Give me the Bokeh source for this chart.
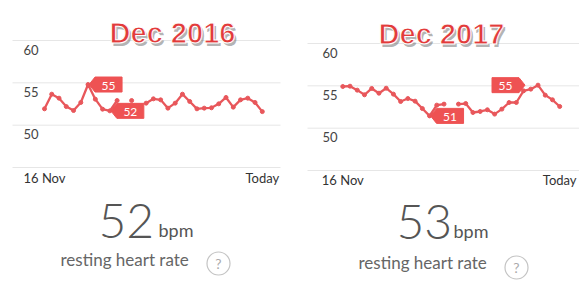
import math
from bokeh.plotting import figure
from bokeh.layouts import row
from bokeh.models import Range1d
from bokeh.core.properties import value
from bokeh.embed import file_html
from bokeh.resources import INLINE

nan = float("nan")

# ---------------- data ----------------
days = list(range(31))
x_label_days = [0, 30]
x_labels = ["16 Nov", "Today"]
y_ticks = [60, 55, 50]
y_grid = [60, 55, 50, 45]

hr_2016 = [51.93, 53.66, 53.19, 52.2, 51.73, 52.68, 54.8, 53.07, 51.89, 51.69,
           52.91, nan, 52.91, nan, 52.6, 53.11, 52.99, 52.01, 52.6, 53.66,
           52.8, 51.93, 52.01, 52.05, 52.52, 53.27, 52.13, 52.99, 53.19, 52.68,
           51.6]
hr_2017 = [54.92, 54.96, 54.49, 53.94, 54.69, 54.13, 54.72, 54.02, 53.15, 53.5,
           53.19, 52.32, 51.45, 52.72, 52.84, nan, 52.84, 52.91, 51.85, 51.97,
           52.17, 51.66, 52.25, 53.03, 53.03, 54.41, 54.61, 55.08, 53.9, 53.35,
           52.56]

callout_days_2016 = [6, 9]
callout_text_2016 = ["55", "52"]
callout_side_2016 = ["right", "right"]
callout_days_2017 = [27, 12]
callout_text_2017 = ["55", "51"]
callout_side_2017 = ["left", "right"]

titles = ["Dec 2016", "Dec 2017"]
resting_bpm = [52, 53]
unit = "bpm"
caption = "resting heart rate"

# ---------------- style ----------------
RED = "#e8575b"
TIP_RED = "#ee5253"
TITLE_RED = "#e23b3b"
GRID = "#e6e6e6"
FONT = "Lato"

panels = [
    dict(width=290, x0=44.0, dx=7.26, y60=40.0, y45=167.0, grid_l=12, grid_r=280,
         ytick_x=23, xlab_y=178, title_xy=(172, 32), big_x=98, bpm_x=158, big_y=220,
         bpm_y=229, cap_x=60, cap_y=259, q_xy=(218, 263), tip_gap=[1, 1]),
    dict(width=289, x0=52.3, dx=7.23, y60=43.0, y45=170.0, grid_l=17, grid_r=289,
         ytick_x=32, xlab_y=180, title_xy=(151, 33), big_x=106, bpm_x=163, big_y=221,
         bpm_y=230, cap_x=68, cap_y=262, q_xy=(226, 267), tip_gap=[13, 1]),
]


def make_panel(cfg, hr, c_days, c_text, c_side, title, bpm):
    W, H = cfg["width"], 289
    x0, dx = cfg["x0"], cfg["dx"]
    y60, y45 = cfg["y60"], cfg["y45"]
    ppb = (y45 - y60) / 15.0

    def X(px):
        return (px - x0) / dx

    def Y(py):
        return 60 - (py - y60) / ppb

    p = figure(width=W, height=H, x_range=Range1d(X(0), X(W)),
               y_range=Range1d(Y(H), Y(0)), x_axis_type=None, y_axis_type=None,
               output_backend="svg", toolbar_location=None, min_border=0,
               outline_line_color=None, background_fill_color="white")

    # grid lines
    p.segment(x0=[X(cfg["grid_l"])] * len(y_grid), x1=[X(cfg["grid_r"])] * len(y_grid),
              y0=y_grid, y1=y_grid, line_color=GRID, line_width=1)
    # y tick labels (below their grid line)
    p.text(x=[X(cfg["ytick_x"])] * len(y_ticks), y=y_ticks, text=[str(t) for t in y_ticks],
           text_baseline="middle", text_align="left", y_offset=9,
           text_font=value(FONT), text_font_size="13px", text_color="#444")
    # x labels
    p.text(x=x_label_days, y=[45] * 2, text=x_labels, text_align="center",
           text_baseline="middle", y_offset=cfg["xlab_y"] - y45 - 1,
           text_font=value(FONT), text_font_size="13px", text_color="#333")

    # line + dots
    p.line(days, hr, line_color=RED, line_width=2.3)
    p.scatter(days, hr, size=4, color=RED)

    # callouts
    for d, t, side, gap in zip(c_days, c_text, c_side, cfg["tip_gap"]):
        v = hr[d]
        notch, body, half = 6.0, 27.0, 7.5
        s = 1 if side == "right" else -1
        pts = [(gap, 0), (gap + notch, -half), (gap + notch + body, -half),
               (gap + notch + body, half), (gap + notch, half)]
        xs = [d + s * a / dx for a, b in pts]
        ys = [v - b / ppb for a, b in pts]
        p.patch(xs, ys, fill_color=TIP_RED, line_color=TIP_RED)
        p.text(x=[d + s * (gap + notch + body / 2) / dx], y=[v], text=[t],
               text_align="center", text_baseline="middle", y_offset=1,
               text_font=value(FONT), text_font_size="12px", text_color="white")

    # title
    tx, ty = cfg["title_xy"]
    p.text(x=[X(tx + 2)], y=[Y(ty + 3)], text=[title], text_align="center",
           text_baseline="middle", text_font=value("Liberation Sans"),
           text_font_size="29px", text_font_style="bold", text_color="#555555",
           text_alpha=0.45)
    p.text(x=[X(tx)], y=[Y(ty)], text=[title], text_align="center",
           text_baseline="middle", text_font=value("Liberation Sans"),
           text_font_size="29px", text_font_style="bold", text_color=TITLE_RED,
           text_outline_color="white")

    # resting heart rate
    p.text(x=[X(cfg["big_x"])], y=[Y(cfg["big_y"])], text=[str(bpm)], text_align="left",
           text_baseline="alphabetic", text_font=value("Lato Light"),
           text_font_size="48px", text_color="#555555")
    p.text(x=[X(cfg["bpm_x"])], y=[Y(cfg["bpm_y"])], text=[unit], text_align="left",
           text_baseline="alphabetic", text_font=value(FONT),
           text_font_size="18px", text_color="#555555")
    p.text(x=[X(cfg["cap_x"])], y=[Y(cfg["cap_y"])], text=[caption], text_align="left",
           text_baseline="alphabetic", text_font=value(FONT),
           text_font_size="17px", text_color="#666666")
    qx, qy = cfg["q_xy"]
    p.scatter(x=[X(qx)], y=[Y(qy)], size=23, marker="circle", fill_color=None,
              line_color="#c4c4c4", line_width=1.2)
    p.text(x=[X(qx)], y=[Y(qy)], text=["?"], text_align="center", text_baseline="middle",
           text_font=value(FONT), text_font_size="14px", text_color="#aaaaaa")
    return p


p1 = make_panel(panels[0], hr_2016, callout_days_2016, callout_text_2016,
                callout_side_2016, titles[0], resting_bpm[0])
p2 = make_panel(panels[1], hr_2017, callout_days_2017, callout_text_2017,
                callout_side_2017, titles[1], resting_bpm[1])

layout = row(p1, p2, spacing=0)
open("out.html", "w").write(file_html(layout, INLINE))
